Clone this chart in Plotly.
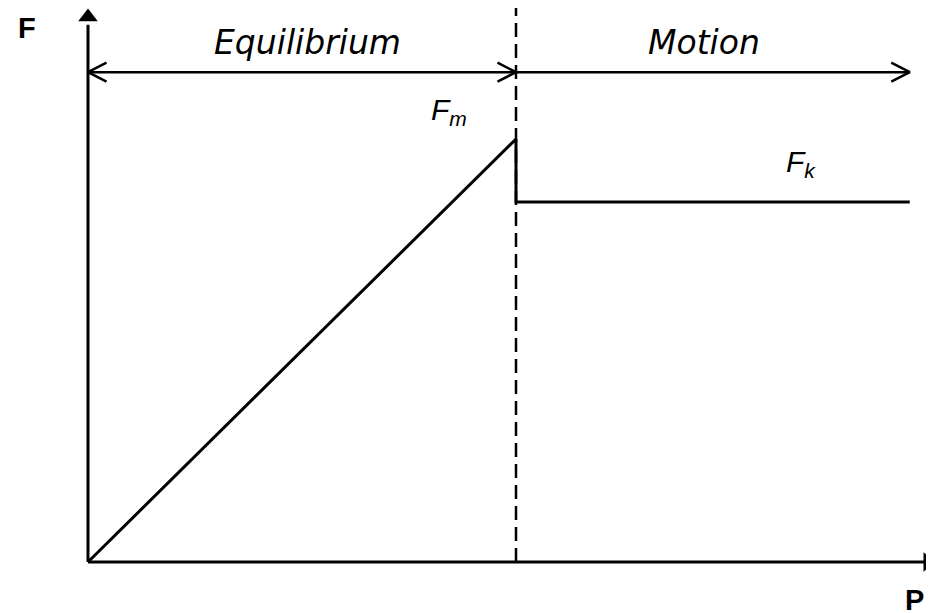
import plotly.graph_objects as go

# conceptual data: applied force P vs friction force F
P_vals = [0.0, 1.0, 1.0, 1.92]
F_vals = [0.0, 1.0, 0.851, 0.851]
P_m = 1.0              # onset of motion
F_top = 1.31           # top of y-axis / dashed line
P_right = 1.98         # x-axis arrow tip
region_y = 1.158       # level of the region arrows
region_labels = ["Equilibrium", "Motion"]
region_bounds = [(0.0, 1.0), (1.0, 1.92)]
region_heads = [("left", "right"), ("right",)]
region_centers = [0.513, 1.439]

# page has an 8px body margin -> ranges chosen for a 926x605 figure
x_rng = [-0.18692, 1.97664]
y_rng = [-0.12057, 1.30969]

HEAD_DX = 18.5 / 428
HEAD_DY = 9.5 / 423

fig = go.Figure()

# friction curve
fig.add_trace(go.Scatter(x=P_vals, y=F_vals, mode="lines",
                         line=dict(color="black", width=3), hoverinfo="skip"))
# dashed boundary
fig.add_trace(go.Scatter(x=[P_m, P_m], y=[0, F_top], mode="lines",
                         line=dict(color="black", width=2.5, dash="14px,7px"), hoverinfo="skip"))
# axes
fig.add_trace(go.Scatter(x=[0, 0], y=[0, 1.27], mode="lines",
                         line=dict(color="black", width=3), hoverinfo="skip"))
fig.add_trace(go.Scatter(x=[0, P_right - 0.02], y=[0, 0], mode="lines",
                         line=dict(color="black", width=3), hoverinfo="skip"))
fig.add_trace(go.Scatter(x=[0], y=[1.2885], mode="markers",
                         marker=dict(symbol="triangle-up", size=17, color="black"), hoverinfo="skip"))
fig.add_trace(go.Scatter(x=[1.962], y=[0], mode="markers",
                         marker=dict(symbol="triangle-right", size=17, color="black"), hoverinfo="skip"))

# region double arrows (open chevron heads)
for (a, b), heads in zip(region_bounds, region_heads):
    xs = [a, b, None]
    ys = [region_y, region_y, None]
    for h in heads:
        if h == "left":
            xs += [a + HEAD_DX, a, a + HEAD_DX, None]
        else:
            xs += [b - HEAD_DX, b, b - HEAD_DX, None]
        ys += [region_y + HEAD_DY, region_y, region_y - HEAD_DY, None]
    fig.add_trace(go.Scatter(x=xs, y=ys, mode="lines",
                             line=dict(color="black", width=2.5), hoverinfo="skip"))

txt_font = dict(family="DejaVu Sans, sans-serif", size=33, color="black")
for lab, xc in zip(region_labels, region_centers):
    fig.add_annotation(x=xc, y=1.228, text="<i>%s</i>" % lab, showarrow=False,
                       font=txt_font, xanchor="center", yanchor="middle")

sub_font = dict(family="Liberation Sans, Arial, sans-serif", size=30, color="black")
fig.add_annotation(x=0.797, y=1.064, text="<i>F<sub>m</sub></i>", showarrow=False,
                   font=sub_font, xanchor="left", yanchor="middle")
fig.add_annotation(x=1.626, y=0.943, text="<i>F<sub>k</sub></i>", showarrow=False,
                   font=sub_font, xanchor="left", yanchor="middle")

ax_font = dict(family="Liberation Sans, Arial, sans-serif", size=29, color="black")
fig.add_annotation(x=-0.1425, y=1.263, text="<b>F</b>", showarrow=False,
                   font=ax_font, xanchor="center", yanchor="middle")
fig.add_annotation(x=1.93, y=-0.09, text="<b>P</b>", showarrow=False,
                   font=ax_font, xanchor="center", yanchor="middle")

fig.update_layout(
    width=926, height=605, margin=dict(l=0, r=0, t=0, b=0),
    plot_bgcolor="white", paper_bgcolor="white", showlegend=False,
    xaxis=dict(range=x_rng, visible=False, fixedrange=True),
    yaxis=dict(range=y_rng, visible=False, fixedrange=True),
)

fig.write_html("out.html")
